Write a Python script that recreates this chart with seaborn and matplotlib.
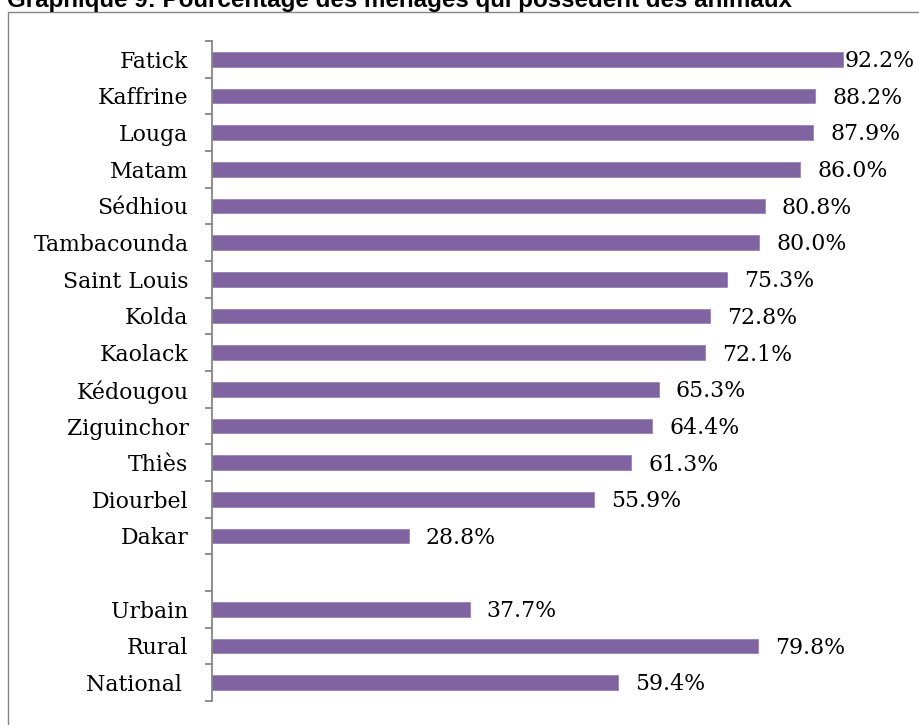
import numpy as np
import pandas as pd
import matplotlib
matplotlib.use("Agg")
import matplotlib.pyplot as plt
from matplotlib.patches import Rectangle
import seaborn as sns

# Share of households owning animals, by region and area of residence
regions = ["Fatick", "Kaffrine", "Louga", "Matam", "Sédhiou", "Tambacounda",
           "Saint Louis", "Kolda", "Kaolack", "Kédougou", "Ziguinchor",
           "Thiès", "Diourbel", "Dakar"]
region_values = [92.2, 88.2, 87.9, 86.0, 80.8, 80.0, 75.3, 72.8, 72.1,
                 65.3, 64.4, 61.3, 55.9, 28.8]
areas = ["Urbain", "Rural", "National "]
area_values = [37.7, 79.8, 59.4]

title = "Graphique 9: Pourcentage des ménages qui possèdent des animaux"

# one empty row separates regions from area totals
spacer = " "
order = regions + [spacer] + areas
df = pd.DataFrame({"categorie": regions + areas,
                   "pct": region_values + area_values})

sns.set_theme(style="white")
serif = ["DejaVu Serif"]
bar_color = "#8064A2"
axis_grey = "#868686"

W, H = 920, 725
fig = plt.figure(figsize=(W / 100, H / 100), dpi=100)
fig.patch.set_facecolor("white")

# chart frame (runs past the right and bottom edges)
fig.add_artist(Rectangle((8 / W, -0.05), 1.2, 1 - 12 / H + 0.05,
                         transform=fig.transFigure, fill=False,
                         edgecolor=axis_grey, linewidth=1.0))
fig.text(7 / W, 1 - 7 / H, title, fontsize=17.4, fontweight="bold",
         family=["Liberation Sans"], color="black", va="baseline", ha="left")

ax = fig.add_axes([212 / W, 1 - 701 / H, 684 / W, 660 / H])
sns.barplot(data=df, y="categorie", x="pct", order=order, orient="h",
            color=bar_color, saturation=1, width=0.4, ax=ax, errorbar=None,
            edgecolor="#9983b6", linewidth=0.6)

ax.set_xlim(0, 100)
ax.set_ylim(len(order) - 0.5, -0.5)
ax.set_xlabel("")
ax.set_ylabel("")
ax.set_xticks([])

for side in ["top", "right", "bottom"]:
    ax.spines[side].set_visible(False)
ax.spines["left"].set_color(axis_grey)
ax.spines["left"].set_linewidth(1.3)

# category labels at bar centres, tick marks at the row boundaries
ax.set_yticks(range(len(order)))
ax.set_yticklabels(order, family=serif, fontsize=15.8, color="black")
ax.tick_params(axis="y", which="major", length=0, pad=17)
ax.set_yticks(np.arange(-0.5, len(order), 1), minor=True)
ax.tick_params(axis="y", which="minor", length=5, width=1.3,
               color=axis_grey, direction="out", left=True)

# value labels just past each bar end, kept inside the chart area
gap = 2.48
right_limit = 92.5
values_by_cat = dict(zip(df["categorie"], df["pct"]))
for i, cat in enumerate(order):
    if cat not in values_by_cat:
        continue
    v = values_by_cat[cat]
    ax.text(min(v + gap, right_limit), i + 0.05, f"{v:.1f}%", family=serif,
            fontsize=15.8, color="black", va="center", ha="left",
            clip_on=False)

fig.savefig("out.png", dpi=100)
